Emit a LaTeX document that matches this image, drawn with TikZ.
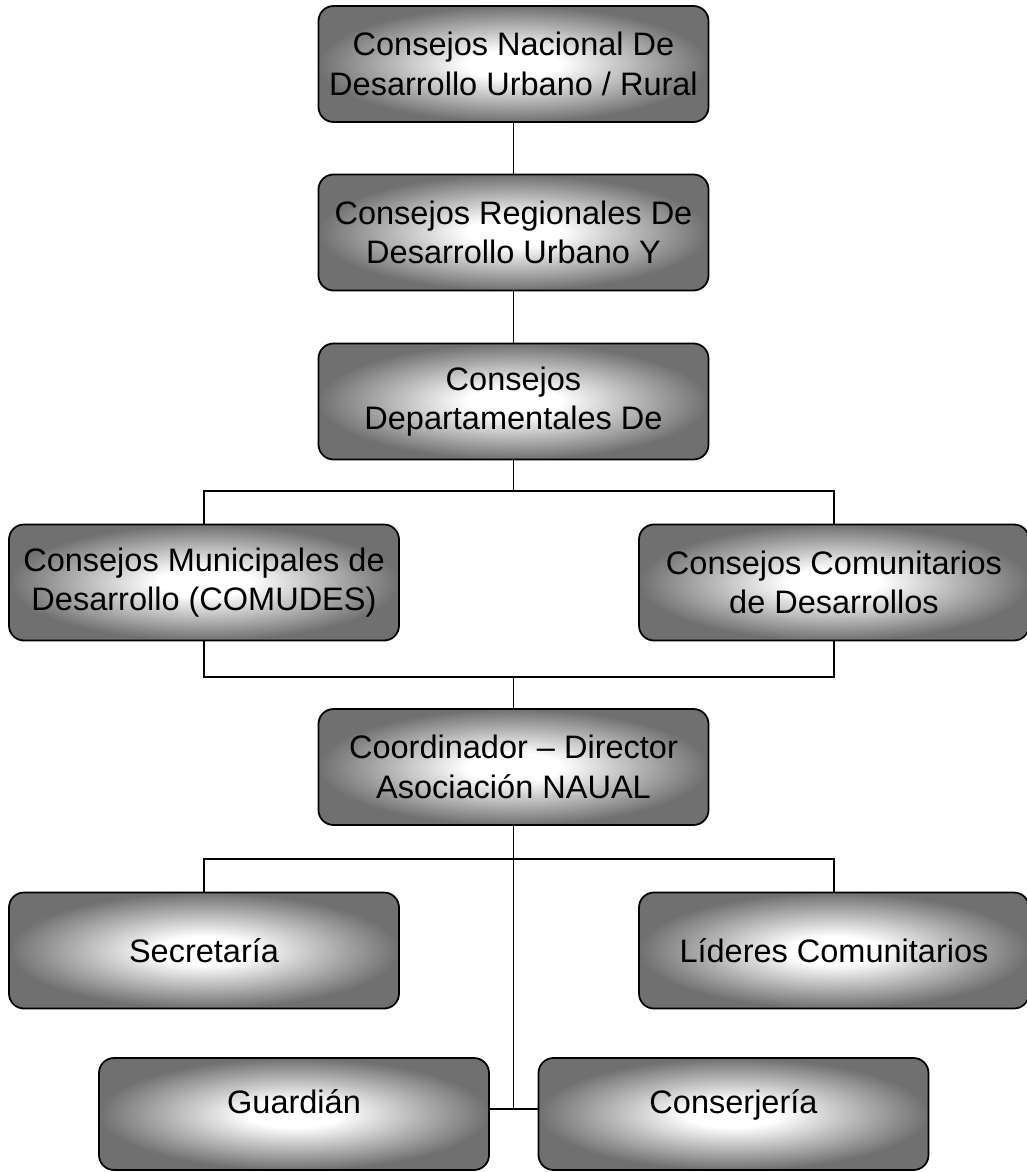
\documentclass[tikz,border=0pt]{standalone}
\usepackage{fontspec}
\setmainfont{Liberation Sans}
\usepackage{xcolor}
\usepackage{tikz}
\usetikzlibrary{positioning}

\pgfdeclareradialshading{boxglow}{\pgfpoint{0bp}{0bp}}{%
    color(0bp)=(white); color(6bp)=(white); color(25bp)=(black!56); color(50bp)=(black!56)}

\begin{document}
\begin{tikzpicture}[thick,
    orgbox/.style={draw, line width=1pt, rectangle, rounded corners=0.3cm,
        minimum width=7.8cm, minimum height=2.32cm, align=center,
        shading=boxglow,
        font=\fontsize{18.5}{22.4}\selectfont},
    link/.style={line width=0.7pt}]
    \useasboundingbox (0,0) rectangle (20.52,-23.44);

    % Top chain of councils
    \node[orgbox] (Nacional) at (10.27,-1.28) {Consejos Nacional De\\Desarrollo Urbano / Rural};
    \node[orgbox] (Regional) at (10.27,-4.65) {Consejos Regionales De\\Desarrollo Urbano Y};
    \node[orgbox] (Depto) at (10.27,-8.03) {Consejos\\Departamentales De};

    \draw[link] (Nacional.south) -- (Regional.north);
    \draw[link] (Regional.south) -- (Depto.north);

    % Municipal and community councils
    \node[orgbox] (Municipal) at (4.08,-11.65) {Consejos Municipales de\\Desarrollo (COMUDES)};
    \node[orgbox] (Comunitario) at (16.68,-11.65) {Consejos Comunitarios\\de Desarrollos};

    \coordinate (JoinUp) at (10.27,-9.82);
    \coordinate (JoinDown) at (10.27,-13.54);
    \draw[link] (Depto.south) -- (JoinUp);
    \draw[link] (Municipal.north) |- (JoinUp) -| (Comunitario.north);
    \draw[link] (Municipal.south) |- (JoinDown) -| (Comunitario.south);

    % Coordination and staff
    \node[orgbox] (Coord) at (10.27,-15.34) {Coordinador -- Director\\Asociación NAUAL};
    \node[orgbox] (Secretaria) at (4.08,-19.01) {Secretaría};
    \node[orgbox] (Lideres) at (16.68,-19.01) {Líderes Comunitarios};
    \node[orgbox, minimum height=2.24cm, text depth=0.5cm] (Guardian) at (5.88,-22.28) {Guardián};
    \node[orgbox, minimum height=2.24cm, text depth=0.5cm] (Conserjeria) at (14.67,-22.28) {Conserjería};

    \coordinate (JoinStaff) at (10.27,-17.18);
    \coordinate (JoinBase) at (10.27,-22.18);
    \draw[link] (JoinDown) -- (Coord.north);
    \draw[link] (Coord.south) -- (JoinBase);
    \draw[link] (Secretaria.north) |- (JoinStaff) -| (Lideres.north);
    \draw[link] (Guardian.east |- JoinBase) -- (Conserjeria.west |- JoinBase);
\end{tikzpicture}
\end{document}
